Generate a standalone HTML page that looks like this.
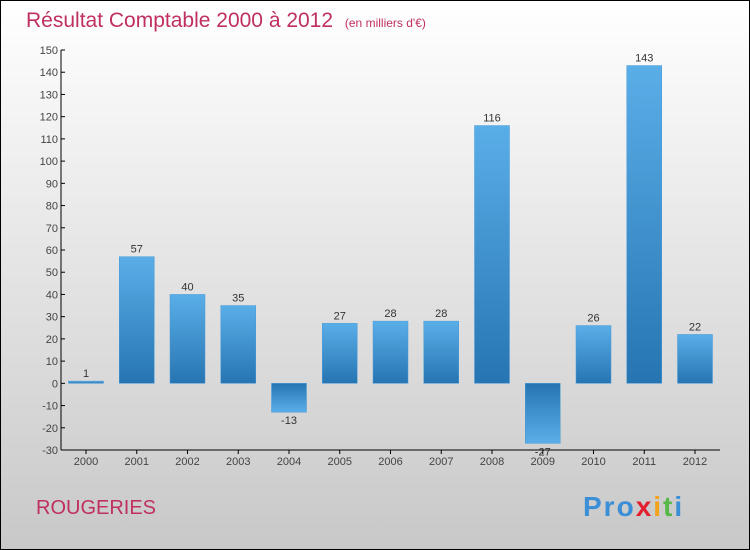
<!DOCTYPE html>
<html><head><meta charset="utf-8"><style>
body{margin:0}
#c{position:relative;width:750px;height:550px;box-sizing:border-box;border:1px solid #000;background:linear-gradient(#ffffff,#c8c8c8);font-family:"Liberation Sans",sans-serif;overflow:hidden}
</style></head><body>
<div id="c">
<svg width="750" height="550" style="position:absolute;left:-1px;top:-1px">
<defs>
<linearGradient id="gp" x1="0" y1="0" x2="0" y2="1"><stop offset="0" stop-color="#5aaee8"/><stop offset="1" stop-color="#2675b2"/></linearGradient>
<linearGradient id="gn" x1="0" y1="0" x2="0" y2="1"><stop offset="0" stop-color="#2675b2"/><stop offset="1" stop-color="#5aaee8"/></linearGradient>
</defs>
<text x="26" y="27" font-size="21" fill="#c0305f">Résultat Comptable 2000 à 2012 <tspan font-size="12" dx="6">(en milliers d'€)</tspan></text>
<g id="axes"></g>
<g id="bars"></g>
<text x="36" y="514" font-size="20" fill="#c0305f">ROUGERIES</text>
<text x="583" y="516" font-size="28" font-weight="bold" letter-spacing="2"><tspan fill="#3a8fd6">Pro</tspan><tspan fill="#e3202f">x</tspan><tspan fill="#f2a21b">i</tspan><tspan fill="#56b947">t</tspan><tspan fill="#3a8fd6">i</tspan></text>
</svg>
</div>
<script>
const categories=["2000","2001","2002","2003","2004","2005","2006","2007","2008","2009","2010","2011","2012"];
const values=[1,57,40,35,-13,27,28,28,116,-27,26,143,22];
const yTicks=[150,140,130,120,110,100,90,80,70,60,50,40,30,20,10,0,-10,-20,-30];
const NS="http://www.w3.org/2000/svg";
const yMin=-30,yMax=150,plotTop=50,plotBot=450,plotLeft=61,plotRight=720;
function y(v){return plotBot-(v-yMin)*(plotBot-plotTop)/(yMax-yMin);}
function xc(i){return 86+i*50.75;}
function mk(t,a,p){const e=document.createElementNS(NS,t);for(const k in a)e.setAttribute(k,a[k]);p.appendChild(e);return e;}
const ax=document.getElementById('axes'),bg=document.getElementById('bars');
let l=mk('line',{x1:plotLeft,y1:plotTop,x2:plotLeft,y2:plotBot,stroke:'#000','stroke-width':1},ax);


l=mk('line',{x1:plotLeft,y1:plotBot,x2:plotRight,y2:plotBot,stroke:'#000','stroke-width':1},ax);


yTicks.forEach(v=>{
 mk('line',{x1:plotLeft,y1:y(v),x2:plotLeft+4,y2:y(v),stroke:'#000'},ax);
 const t=mk('text',{x:plotLeft-3,y:y(v)+4,'font-size':11,fill:'#444','text-anchor':'end'},ax);
 t.textContent=v;
 
 
});
categories.forEach((c,i)=>{
 mk('line',{x1:xc(i),y1:plotBot,x2:xc(i),y2:plotBot+4,stroke:'#000'},ax);
 const t=mk('text',{x:xc(i),y:plotBot+15,'font-size':11,fill:'#444','text-anchor':'middle'},ax);
 t.textContent=c;
 
 
 const v=values[i],y0=y(0),yv=y(v);
 const r=mk('rect',{x:xc(i)-17.5,y:Math.min(y0,yv),width:35,height:Math.max(Math.abs(yv-y0),2),fill:v>=0?'url(#gp)':'url(#gn)',stroke:'#4a9ad8','stroke-width':0.5},bg);
 
 
 const lt=mk('text',{x:xc(i),y:v>=0?yv-4:yv+12,'font-size':11,fill:'#333','text-anchor':'middle'},bg);
 lt.textContent=v;
 
 
});
</script>
</body></html>
